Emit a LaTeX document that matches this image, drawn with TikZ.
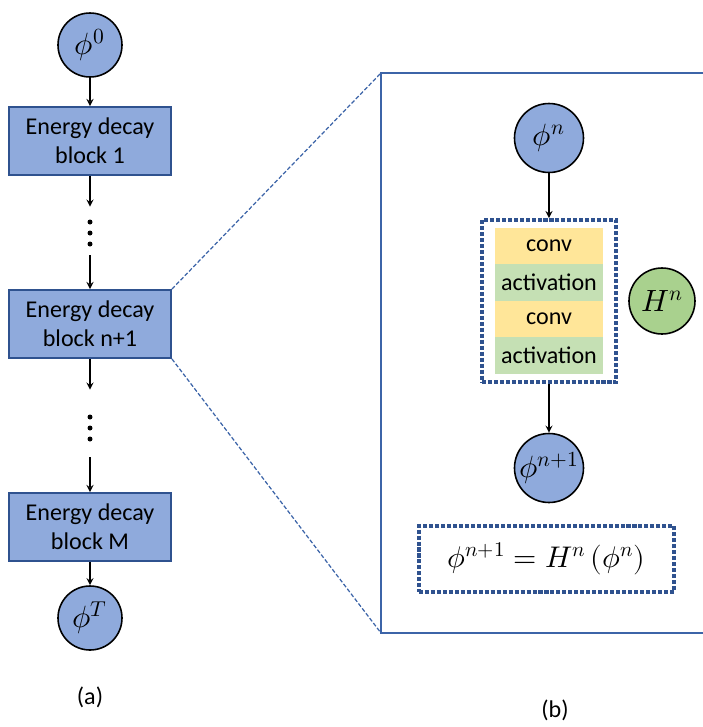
\documentclass[tikz,border=0pt]{standalone}
\usepackage{unicode-math}
\setmainfont{Carlito}
\usetikzlibrary{shapes.geometric, arrows}
\definecolor{BlkFill}{HTML}{8FAADC}
\definecolor{BlkLine}{HTML}{2F528F}
\definecolor{ConvFill}{HTML}{FFE699}
\definecolor{ActFill}{HTML}{C5E0B4}
\definecolor{HFill}{HTML}{A9D18E}
\definecolor{ZoomLine}{HTML}{3C64A8}
\tikzstyle{block} = [rectangle, minimum width=3.24cm, minimum height=1.36cm, text centered, align=center, draw=BlkLine, line width=1.1pt, fill=BlkFill]
\tikzstyle{phinode} = [circle, minimum size=1.28cm, inner sep=0pt, draw=black, line width=0.9pt, fill=BlkFill, font=\fontsize{17.5}{20}\selectfont]
\tikzstyle{netlayer} = [rectangle, minimum width=2.16cm, minimum height=0.73cm, inner sep=0pt, text centered]
\tikzstyle{dotbox} = [rectangle, draw=BlkLine, line width=2.2pt, dash pattern=on 2.3pt off 1.1pt]
\tikzstyle{dotsgap} = [minimum width=0.3cm, inner sep=0pt]
\tikzstyle{arrow} = [line width=0.8pt,->,>=stealth]
\tikzstyle{zoomline} = [draw=ZoomLine, line width=0.7pt, dash pattern=on 2.3pt off 1.2pt]

\begin{document}
\begin{tikzpicture}[node distance=1.9cm, font=\fontsize{13.7}{16.5}\selectfont]
\useasboundingbox (0,0) rectangle (14.06,-14.54);

% (a) chain of energy decay blocks
\node (phi0) [phinode] at (1.80,-0.90) {$\phi^{0}$};
\node (blk1) [block, node distance=1.92cm, below of=phi0] {Energy decay\\block 1};
\node (dots1) [dotsgap, minimum height=0.96cm, node distance=1.80cm, below of=blk1] {};
\node (blkn) [block, node distance=1.86cm, below of=dots1] {Energy decay\\block n+1};
\node (dots2) [dotsgap, minimum height=1.34cm, node distance=1.99cm, below of=blkn] {};
\node (blkM) [block, node distance=2.07cm, below of=dots2] {Energy decay\\block M};
\node (phiT) [phinode, node distance=1.82cm, below of=blkM] {$\phi^{T}$};
\node (capa) [node distance=1.58cm, below of=phiT] {(a)};

\foreach \d/\off in {dots1/-0.04, dots2/-0.09}
  \foreach \k in {-1,0,1}
    \fill ([yshift=\off cm+\k*0.22cm]\d.center) circle (0.05cm);

\draw [arrow] (phi0) -- (blk1);
\draw [arrow] (blk1) -- (dots1);
\draw [arrow] (dots1) -- (blkn);
\draw [arrow] (blkn) -- (dots2);
\draw [arrow] (dots2) -- (blkM);
\draw [arrow] (blkM) -- (phiT);

% (b) inside one block
\coordinate (zoomtl) at (7.62,-1.46);
\coordinate (zoombl) at (7.62,-12.66);
\draw [draw=ZoomLine, line width=1.1pt] (14.06,-1.46) -- (zoomtl) -- (zoombl) -- (14.06,-12.66);
\draw [zoomline] (blkn.north east) -- (zoomtl);
\draw [zoomline] (blkn.south east) -- (zoombl);

\node (phin) [phinode, minimum size=1.38cm] at (10.98,-2.76) {$\phi^{n}$};
\node (hbox) [dotbox, minimum width=2.68cm, minimum height=3.24cm, node distance=3.26cm, below of=phin] {};
\node (conv1) [netlayer, fill=ConvFill, yshift=1.10cm] at (hbox.center) {conv};
\node (act1) [netlayer, fill=ActFill, node distance=0.73cm, below of=conv1] {activation};
\node (conv2) [netlayer, fill=ConvFill, node distance=0.73cm, below of=act1] {conv};
\node (act2) [netlayer, fill=ActFill, node distance=0.73cm, below of=conv2] {activation};
\node (Hn) [phinode, fill=HFill, minimum size=1.32cm, node distance=2.26cm, right of=hbox] {$H^{n}$};
\node (phin1) [phinode, minimum size=1.38cm, node distance=3.34cm, below of=hbox] {$\phi^{n+1}$};
\node (eqn) [dotbox, minimum width=5.10cm, minimum height=1.32cm, node distance=1.82cm, below of=phin1, xshift=-0.05cm, font=\fontsize{17}{20}\selectfont] {$\phi^{n+1} = H^{n}\,(\phi^{n})$};
\node (capb) [node distance=3.02cm, below of=eqn, xshift=0.17cm] {(b)};

\draw [arrow] (phin) -- (hbox);
\draw [arrow] (hbox) -- (phin1);

\end{tikzpicture}
\end{document}
